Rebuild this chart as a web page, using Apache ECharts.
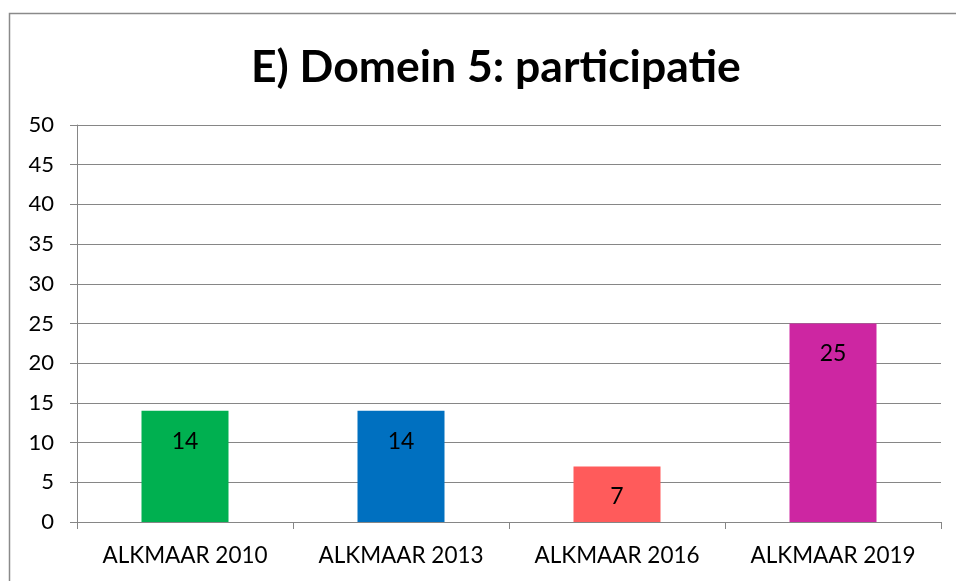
<!DOCTYPE html>
<html>
<head>
<meta charset="utf-8">
<script src="https://cdn.jsdelivr.net/npm/echarts@6/dist/echarts.min.js"></script>
<style>
  html, body { margin: 0; padding: 0; background: #fff; }
  #main { width: 956px; height: 581px; }
</style>
</head>
<body>
<div id="main"></div>
<script>
const categories = ["ALKMAAR 2010", "ALKMAAR 2013", "ALKMAAR 2016", "ALKMAAR 2019"];
const values = [14, 14, 7, 25];
const barColors = ["#00B050", "#0070C0", "#FF5B5B", "#CD26A2"];

const chart = echarts.init(document.getElementById("main"));
chart.setOption({
  animation: false,
  textStyle: { fontFamily: "Lato, 'Open Sans', sans-serif" },
  title: {
    text: "E) Domein 5: participatie",
    left: 246,
    top: 40,
    textStyle: { fontSize: 44.5, fontWeight: "bold", color: "#000", fontFamily: "Lato" }
  },
  graphic: [
    {
      type: "rect",
      shape: { x: 9.5, y: 13.5, width: 960, height: 600 },
      style: { fill: "none", stroke: "#8a8a8a", lineWidth: 1.5 },
      silent: true
    }
  ],
  grid: { left: 77, right: 15, top: 125, bottom: 59 },
  xAxis: {
    type: "category",
    data: categories,
    axisLine: { lineStyle: { color: "#868686" } },
    axisTick: { show: true, length: 7, lineStyle: { color: "#868686" } },
    axisLabel: { color: "#000", fontSize: 22.5, margin: 22 }
  },
  yAxis: {
    type: "value",
    min: 0,
    max: 50,
    interval: 5,
    axisLine: { show: true, lineStyle: { color: "#868686" } },
    axisTick: { show: true, length: 7, lineStyle: { color: "#868686" } },
    axisLabel: { color: "#000", fontSize: 22, margin: 23 },
    splitLine: { lineStyle: { color: "#868686" } }
  },
  series: [
    {
      type: "bar",
      barWidth: 87,
      data: values.map((v, i) => ({ value: v, itemStyle: { color: barColors[i] } })),
      label: {
        show: true,
        position: "insideTop",
        distance: 19,
        color: "#000",
        fontSize: 23
      }
    }
  ]
});
</script>
</body>
</html>
